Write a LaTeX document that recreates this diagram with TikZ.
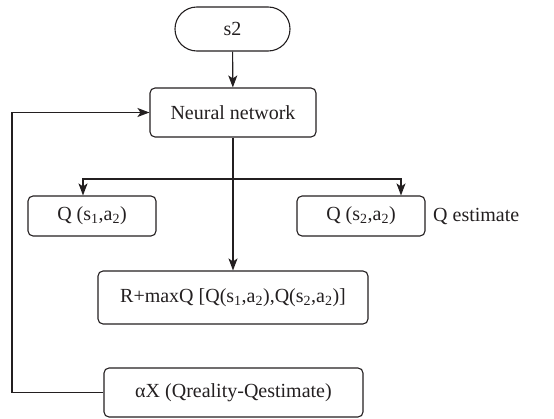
\documentclass[tikz,border=0pt]{standalone}
\usepackage{fontspec}
\setmainfont{Liberation Serif}
\usetikzlibrary{arrows.meta}
\definecolor{ink}{HTML}{231F20}
\begin{document}
\begin{tikzpicture}[x=1pt,y=-1pt,
  every node/.style={font=\fontsize{20}{23}\selectfont, text=ink},
  box/.style={draw=ink, line width=1.1pt, rounded corners=5pt, inner sep=0pt},
  link/.style={draw=ink, line width=1.1pt, -{Stealth[length=12pt,width=9pt,inset=3pt]}}]
  \useasboundingbox (0,0) rectangle (554,419);

  \node[box, rounded corners=21.9pt, minimum width=115pt, minimum height=44pt] (s2) at (232.5,29) {s2};
  \node[box, minimum width=166pt, minimum height=49pt] (nn) at (233,112.5) {Neural network};
  \node[box, minimum width=128pt, minimum height=40pt] (q1) at (92,216) {Q (s\textsubscript{1},a\textsubscript{2})\hspace{8pt}};
  \node[box, minimum width=128pt, minimum height=40pt] (q2) at (361,216) {Q (s\textsubscript{2},a\textsubscript{2})\hspace{8pt}};
  \node[anchor=west, inner sep=0pt] (qe) at (433,217) {Q estimate};
  \node[box, minimum width=270pt, minimum height=53pt] (r) at (233,297.5) {R+maxQ [Q(s\textsubscript{1},a\textsubscript{2}),Q(s\textsubscript{2},a\textsubscript{2})]};
  \node[box, minimum width=259pt, minimum height=49pt] (ax) at (233.5,392.5) {αX (Qreality-Qestimate)};

  \coordinate (br) at (233,179);
  \coordinate (fb) at (12,300);

  \draw[link] (s2) -- (nn);
  \draw[link] (nn.south) -- (r.north);
  \draw[link] (br) -| ([xshift=-9pt]q1.north);
  \draw[link] (br) -| ([xshift=40pt]q2.north);
  \draw[link] (ax.west) -| (fb) |- (nn.west);
\end{tikzpicture}
\end{document}
